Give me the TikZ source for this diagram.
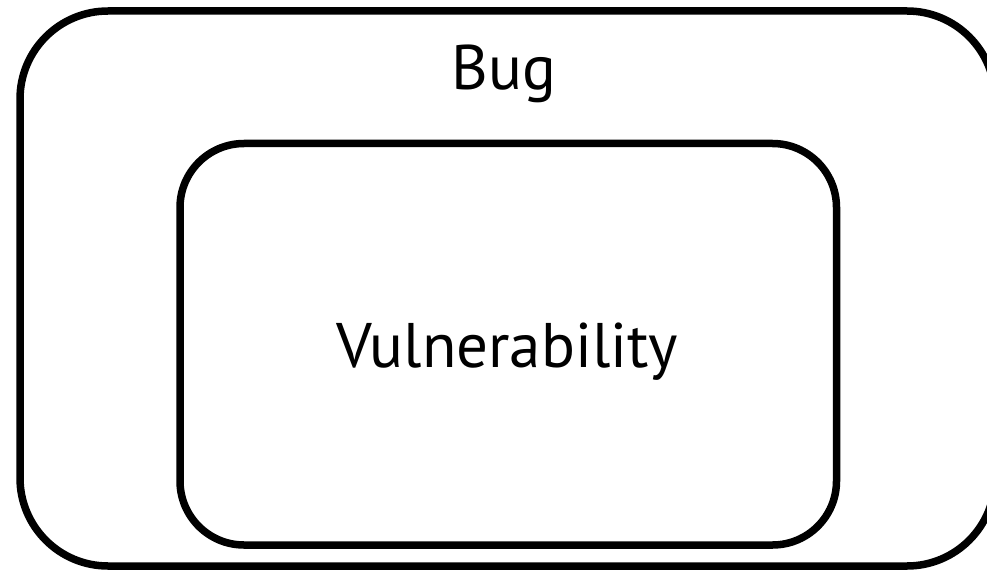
\documentclass[tikz,border=0pt]{standalone}
\usepackage{fontspec}
\setmainfont{PT Sans}
\begin{document}
\begin{tikzpicture}[x=1pt,y=-1pt,
  frame/.style={draw=black,line width=7.5pt,rounded corners=#1},
  label/.style={anchor=base,inner sep=0pt,font=\fontsize{63}{63}\selectfont}]
\useasboundingbox (0,0) rectangle (987,572);
\begin{scope}
\clip (0,0) rectangle (987,572);
% outer set: bugs
\draw[frame=88pt] (20,11) rectangle (995,566);
% inner set: vulnerabilities
\draw[frame=64pt] (180,143.5) rectangle (836.5,545);
\end{scope}
\node[label] (bug) at (504,90) {Bug};
\node[label] (vuln) at (507.5,367) {Vulnerability};
\end{tikzpicture}
\end{document}
